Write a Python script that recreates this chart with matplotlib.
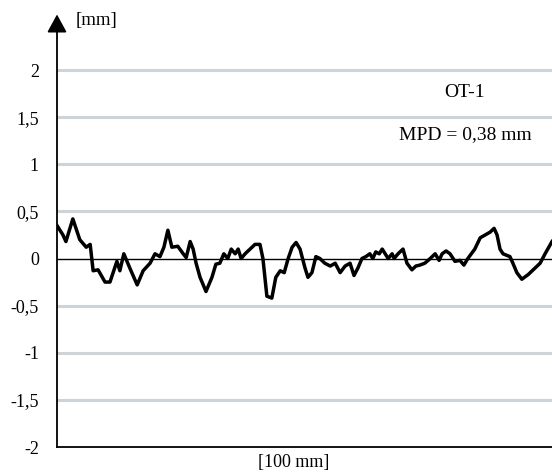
import matplotlib.pyplot as plt

# Surface profile OT-1, position along the 100 mm trace (mm) and height (mm)
POS_MM = [0.0, 1.2, 1.8, 3.2, 4.6, 5.9, 6.7, 7.3, 8.3, 9.7,
          10.7, 12.1, 12.7, 13.5, 14.7, 16.2, 17.4, 18.8, 19.8, 20.8,
          21.6, 22.4, 23.2, 24.4, 25.5, 26.1, 26.9, 27.5, 28.1, 28.9,
          30.1, 31.3, 32.1, 32.9, 33.7, 34.5, 35.2, 36.0, 36.6, 37.2,
          38.0, 39.0, 40.0, 41.0, 41.6, 42.4, 43.4, 44.2, 45.1, 45.9,
          46.7, 47.5, 48.3, 49.1, 50.1, 50.7, 51.5, 52.3, 53.1, 54.1,
          55.2, 56.2, 57.2, 58.2, 59.2, 60.0, 60.8, 61.6, 62.4, 63.2,
          63.8, 64.4, 65.1, 65.7, 66.3, 66.9, 67.7, 68.1, 68.9, 69.9,
          70.7, 71.7, 72.5, 73.3, 74.3, 75.4, 76.4, 77.2, 77.8, 78.6,
          79.4, 80.4, 81.4, 82.2, 83.0, 84.4, 85.5, 86.5, 87.5, 88.3,
          88.9, 89.5, 90.1, 91.5, 92.1, 92.9, 93.9, 95.2, 96.6, 97.6,
          98.6, 100.0]
HEIGHT_MM = [0.35, 0.25, 0.18, 0.42, 0.20, 0.12, 0.15, -0.13, -0.12, -0.25,
             -0.25, -0.03, -0.13, 0.05, -0.10, -0.28, -0.13, -0.05, 0.05, 0.02,
             0.12, 0.30, 0.12, 0.13, 0.05, 0.01, 0.18, 0.10, -0.05, -0.20,
             -0.35, -0.20, -0.06, -0.05, 0.05, 0.00, 0.10, 0.05, 0.10, 0.00,
             0.05, 0.10, 0.15, 0.15, 0.00, -0.40, -0.42, -0.20, -0.13, -0.15,
             0.00, 0.12, 0.17, 0.10, -0.10, -0.20, -0.15, 0.02, 0.00, -0.05,
             -0.08, -0.05, -0.15, -0.08, -0.05, -0.18, -0.10, 0.00, 0.02, 0.05,
             0.00, 0.07, 0.05, 0.10, 0.05, 0.00, 0.05, 0.00, 0.05, 0.10,
             -0.05, -0.12, -0.08, -0.07, -0.05, 0.00, 0.05, -0.02, 0.05, 0.08,
             0.05, -0.03, -0.02, -0.07, 0.00, 0.10, 0.22, 0.25, 0.28, 0.32,
             0.25, 0.10, 0.05, 0.02, -0.05, -0.15, -0.22, -0.17, -0.10, -0.05,
             0.05, 0.18]

Y_TICKS = [-2, -1.5, -1, -0.5, 0, 0.5, 1, 1.5, 2]
Y_LABELS = ["-2", "-1,5", "-1", "-0,5", "0", "0,5", "1", "1,5", "2"]

plt.rcParams['font.family'] = ['Liberation Serif', 'DejaVu Serif']

fig = plt.figure(figsize=(5.52, 4.72), dpi=100)
ax = fig.add_axes([57 / 552, 25 / 472, 1 - 57 / 552, 419.4 / 472])

for y in Y_TICKS:
    if y in (0, -2):
        continue
    ax.axhline(y, color='#ccd3d9', lw=2.2, zorder=1)
ax.axhline(0, color='black', lw=1.0, zorder=2)

ax.plot(POS_MM, HEIGHT_MM, color='black', lw=2.5, zorder=3,
        solid_joinstyle='round')

ax.set_xlim(0, 100)
ax.set_ylim(-2, 2.45)
ax.set_yticks(Y_TICKS)
ax.set_yticklabels(Y_LABELS, fontsize=13)
ax.set_xticks([])
ax.tick_params(axis='y', length=0, pad=13)
for side in ('top', 'right'):
    ax.spines[side].set_visible(False)
ax.spines['left'].set_linewidth(1.3)
ax.spines['bottom'].set_linewidth(1.3)

# arrow head on the y axis
ax.annotate('', xy=(0, 1.038), xytext=(0, 0.995), xycoords='axes fraction',
            arrowprops=dict(arrowstyle='-|>,head_length=1.1,head_width=0.6',
                            color='black', lw=1.3), annotation_clip=False)

fig.text(76 / 552, 1 - 20 / 472, "[mm]", fontsize=13.5, va='center', ha='left')
fig.text(294 / 552, 1 - 462 / 472, "[100 mm]", fontsize=13, va='center', ha='center')

ax.text(82.4, 1.76, "OT-1", fontsize=14, ha='center', va='center')
ax.text(82.4, 1.31, "MPD = 0,38 mm", fontsize=14, ha='center', va='center')

fig.savefig("out.png", dpi=100)
